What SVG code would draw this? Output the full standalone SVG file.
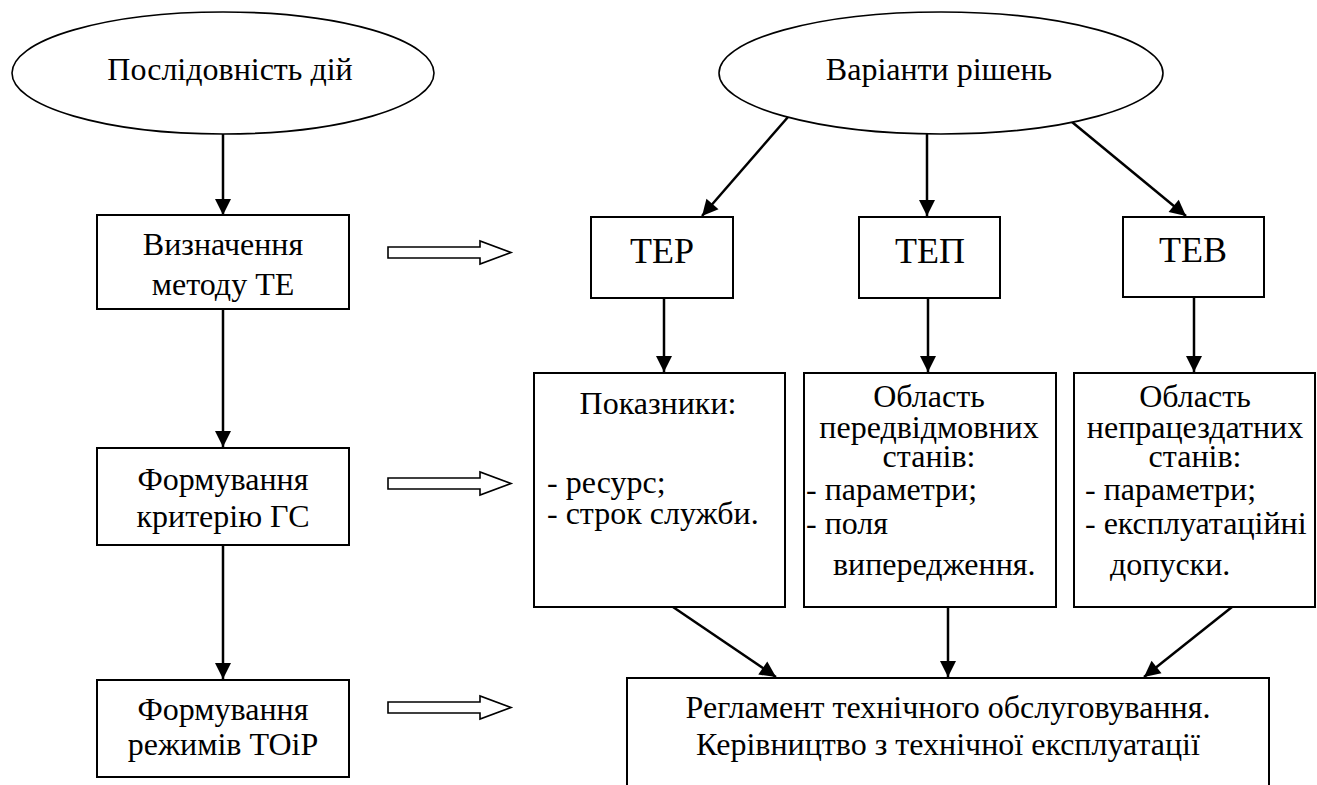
<svg xmlns="http://www.w3.org/2000/svg" width="1317" height="785" viewBox="0 0 1317 785">
<defs>
<marker id="ah" markerUnits="userSpaceOnUse" markerWidth="18" markerHeight="18" viewBox="0 -9 17 18" refX="16" refY="0" orient="auto">
<path d="M0,-8 L16,0 L0,8 z" fill="#000"/>
</marker>
<style>
.box{fill:#fff;stroke:#000;stroke-width:2}
.ell{fill:#fff;stroke:#000;stroke-width:1.6}
text{font-family:'Liberation Serif','Times New Roman',serif;font-size:32px;fill:#000}
.c{text-anchor:middle}
.big{font-size:36px}
.ln{stroke:#000;stroke-width:2.5;fill:none;marker-end:url(#ah)}
.hol{fill:#fff;stroke:#000;stroke-width:1.6}
</style>
</defs>
<rect width="1317" height="785" fill="#fff"/>

<g id="connectors">
<line class="ln" x1="223" y1="134" x2="223" y2="215"/>
<line class="ln" x1="223" y1="309" x2="223" y2="447"/>
<line class="ln" x1="223" y1="545" x2="223" y2="679"/>
<line class="ln" x1="788" y1="117" x2="702" y2="216"/>
<line class="ln" x1="927" y1="134" x2="927" y2="216"/>
<line class="ln" x1="1072" y1="122" x2="1186" y2="216"/>
<line class="ln" x1="664" y1="298" x2="664" y2="372"/>
<line class="ln" x1="928" y1="297" x2="928" y2="372"/>
<line class="ln" x1="1194" y1="297" x2="1194" y2="372"/>
<line class="ln" x1="673" y1="607" x2="776" y2="677"/>
<line class="ln" x1="948" y1="607" x2="948" y2="677"/>
<line class="ln" x1="1232" y1="607" x2="1144" y2="677"/>
<path class="hol" d="M388,247 H480 V241 L511,252.5 L480,264 V258 H388 z"/>
<path class="hol" d="M388,478 H480 V472 L511,483.5 L480,495 V489 H388 z"/>
<path class="hol" d="M388,702 H480 V696 L511,707.5 L480,719 V713 H388 z"/>
</g>

<g id="n-sequence">
<ellipse class="ell" cx="223" cy="73" rx="211" ry="61"/>
<text class="c" x="230" y="80">Послідовність дій</text>
</g>
<g id="n-variants">
<ellipse class="ell" cx="941" cy="73" rx="222" ry="61"/>
<text class="c" x="939" y="80">Варіанти рішень</text>
</g>

<g id="n-method">
<rect class="box" x="97" y="215" width="252" height="94"/>
<text class="c" x="223" y="255">Визначення</text>
<text class="c" x="223" y="295">методу ТЕ</text>
</g>
<g id="n-criterion">
<rect class="box" x="97" y="448" width="252" height="97"/>
<text class="c" x="223" y="490">Формування</text>
<text class="c" x="223" y="527">критерію ГС</text>
</g>
<g id="n-modes">
<rect class="box" x="97" y="680" width="252" height="97"/>
<text class="c" x="223" y="720">Формування</text>
<text class="c" x="223" y="755">режимів ТОіР</text>
</g>

<g id="n-ter">
<rect class="box" x="591" y="217" width="142" height="81"/>
<text class="c big" x="662" y="263">ТЕР</text>
</g>
<g id="n-tep">
<rect class="box" x="859" y="217" width="141" height="81"/>
<text class="c big" x="930" y="263">ТЕП</text>
</g>
<g id="n-tev">
<rect class="box" x="1123" y="217" width="141" height="80"/>
<text class="c big" x="1193" y="262">ТЕВ</text>
</g>

<g id="n-indicators">
<rect class="box" x="534" y="373" width="251" height="234"/>
<text class="c" x="658" y="414">Показники:</text>
<text x="547" y="493">- ресурс;</text>
<text x="547" y="524">- строк служби.</text>
</g>
<g id="n-prefail">
<rect class="box" x="804" y="373" width="252" height="234"/>
<text class="c" x="929" y="407">Область</text>
<text class="c" x="929" y="438">передвідмовних</text>
<text class="c" x="929" y="467">станів:</text>
<text x="806" y="500">- параметри;</text>
<text x="806" y="534">- поля</text>
<text x="833" y="575">випередження.</text>
</g>
<g id="n-fail">
<rect class="box" x="1074" y="373" width="241" height="234"/>
<text class="c" x="1195" y="407">Область</text>
<text class="c" x="1195" y="438">непрацездатних</text>
<text class="c" x="1195" y="467">станів:</text>
<text x="1085" y="500">- параметри;</text>
<text x="1085" y="534">- експлуатаційні</text>
<text x="1110" y="575">допуски.</text>
</g>

<g id="n-regulation">
<rect class="box" x="627" y="678" width="642" height="140"/>
<text class="c" x="948" y="718">Регламент технічного обслуговування.</text>
<text class="c" x="948" y="755">Керівництво з технічної експлуатації</text>
</g>
</svg>
